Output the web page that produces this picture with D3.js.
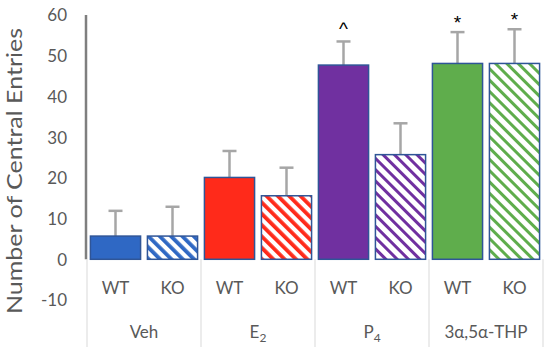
<!DOCTYPE html>
<html>
<head>
<meta charset="utf-8">
<script src="https://cdn.jsdelivr.net/npm/d3@7/dist/d3.min.js"></script>
<style>
  body { margin: 0; background: #fff; }
  svg text { font-family: Lato, "Open Sans", sans-serif; fill: #595959; }
</style>
</head>
<body>
<div id="chart"></div>
<script>
// data
var groups = ["Veh", "E2", "P4", "THP"];
var genotypes = ["WT", "KO"];
var wtMeans = [5.7, 20.1, 47.7, 48.1];
var koMeans = [5.7, 15.6, 25.7, 48.1];
var wtErr = [6.2, 6.5, 5.8, 7.7];
var koErr = [7.2, 6.9, 7.7, 8.4];
var wtMarks = ["", "", "^", "*"];
var koMarks = ["", "", "", "*"];
var groupColors = ["#2f68c4", "#ff2a1a", "#7030a0", "#5fad4c"];
var yTicks = [-10, 0, 10, 20, 30, 40, 50, 60];

var width = 550, height = 354;
var margin = { top: 15, right: 7, bottom: 54, left: 87 };

var svg = d3.select("#chart").append("svg")
    .attr("width", width).attr("height", height);

var defs = svg.append("defs");
groupColors.forEach(function (c, i) {
    var p = defs.append("pattern")
        .attr("id", "hatch" + i)
        .attr("patternUnits", "userSpaceOnUse")
        .attr("width", 8).attr("height", 8)
        .attr("patternTransform", "rotate(-45)");
    p.append("rect").attr("width", 8).attr("height", 8).attr("fill", "#fff");
    p.append("rect").attr("width", i < 2 ? 3.8 : 3).attr("height", 8).attr("fill", c);
});

var data = [];
groups.forEach(function (g, i) {
    data.push({ group: g, gi: i, geno: "WT", value: wtMeans[i], err: wtErr[i], mark: wtMarks[i] });
    data.push({ group: g, gi: i, geno: "KO", value: koMeans[i], err: koErr[i], mark: koMarks[i] });
});

var x0 = d3.scaleBand().domain(groups).range([margin.left, width - margin.right]).padding(0);
var x1 = d3.scaleBand().domain(genotypes).range([0, x0.bandwidth()]).paddingInner(0.12).paddingOuter(0.06);
var y = d3.scaleLinear().domain([-10, 60]).range([300, margin.top]);

// y axis (labels only, line from 0 to 60)
var yAxis = d3.axisLeft(y).tickValues(yTicks).tickSize(0).tickPadding(0)
    .tickFormat(function (d) { return String(d); });
var ya = svg.append("g").attr("transform", "translate(67,0)").call(yAxis);
ya.select(".domain").remove();
ya.selectAll("text").style("font-size", "17px").attr("fill", "#595959").attr("dy", "0.35em");

svg.append("line")
    .attr("x1", margin.left - 1).attr("x2", margin.left - 1)
    .attr("y1", y(60)).attr("y2", y(0))
    .attr("stroke", "#7f7f7f").attr("stroke-width", 2.5);

// category separators
var seps = groups.map(function (g) { return x0(g); }).concat([x0(groups[3]) + x0.bandwidth()]);
svg.selectAll("line.sep").data(seps).enter().append("line")
    .attr("class", "sep")
    .attr("x1", function (d) { return d; }).attr("x2", function (d) { return d; })
    .attr("y1", y(0)).attr("y2", 347)
    .attr("stroke", "#d9d9d9").attr("stroke-width", 1);

// error bars
var eb = svg.selectAll("g.err").data(data).enter().append("g").attr("class", "err");
eb.append("line")
    .attr("x1", function (d) { return x0(d.group) + x1(d.geno) + x1.bandwidth() / 2; })
    .attr("x2", function (d) { return x0(d.group) + x1(d.geno) + x1.bandwidth() / 2; })
    .attr("y1", function (d) { return y(d.value); })
    .attr("y2", function (d) { return y(d.value + d.err); })
    .attr("stroke", "#a6a6a6").attr("stroke-width", 2.5);
eb.append("line")
    .attr("x1", function (d) { return x0(d.group) + x1(d.geno) + x1.bandwidth() / 2 - 7; })
    .attr("x2", function (d) { return x0(d.group) + x1(d.geno) + x1.bandwidth() / 2 + 7; })
    .attr("y1", function (d) { return y(d.value + d.err); })
    .attr("y2", function (d) { return y(d.value + d.err); })
    .attr("stroke", "#a6a6a6").attr("stroke-width", 2.5);

// bars
svg.selectAll("rect.bar").data(data).enter().append("rect")
    .attr("class", "bar")
    .attr("x", function (d) { return x0(d.group) + x1(d.geno); })
    .attr("width", x1.bandwidth())
    .attr("y", function (d) { return y(d.value); })
    .attr("height", function (d) { return y(0) - y(d.value); })
    .attr("fill", function (d) { return d.geno === "WT" ? groupColors[d.gi] : "url(#hatch" + d.gi + ")"; })
    .attr("stroke", "#2f5597").attr("stroke-width", 1.5);

// significance marks
svg.selectAll("text.mark").data(data.filter(function (d) { return d.mark; })).enter().append("text")
    .attr("class", "mark")
    .attr("x", function (d) { return x0(d.group) + x1(d.geno) + x1.bandwidth() / 2; })
    .attr("y", function (d) { return y(d.value + d.err) - (d.mark === "*" ? 3 : 6); })
    .attr("text-anchor", "middle")
    .style("font-family", "'Liberation Sans', sans-serif")
    .style("font-size", "19px")
    .style("fill", "#000")
    .text(function (d) { return d.mark; });

// genotype labels
svg.selectAll("text.geno").data(data).enter().append("text")
    .attr("class", "geno")
    .attr("x", function (d) { return x0(d.group) + x1(d.geno) + x1.bandwidth() / 2; })
    .attr("y", 294)
    .attr("text-anchor", "middle")
    .style("font-size", "17px")
    .text(function (d) { return d.geno; });

// group labels
var gl = svg.selectAll("text.grp").data(groups).enter().append("text")
    .attr("class", "grp")
    .attr("x", function (d) { return x0(d) + x0.bandwidth() / 2; })
    .attr("y", 338)
    .attr("text-anchor", "middle")
    .style("font-size", "17px");
gl.each(function (d) {
    var t = d3.select(this);
    if (d === "E2" || d === "P4") {
        t.append("tspan").text(d[0]);
        t.append("tspan").attr("dy", 4).style("font-size", "12px").text(d[1]);
    } else if (d === "THP") {
        t.text("3\u03b1,5\u03b1-THP");
    } else {
        t.text(d);
    }
});

// y title
svg.append("text")
    .attr("transform", "translate(22," + 171 + ") rotate(-90)")
    .attr("text-anchor", "middle")
    .attr("textLength", 286)
    .attr("lengthAdjust", "spacingAndGlyphs")
    .style("font-size", "21px")
    .text("Number of Central Entries");
</script>
</body>
</html>
